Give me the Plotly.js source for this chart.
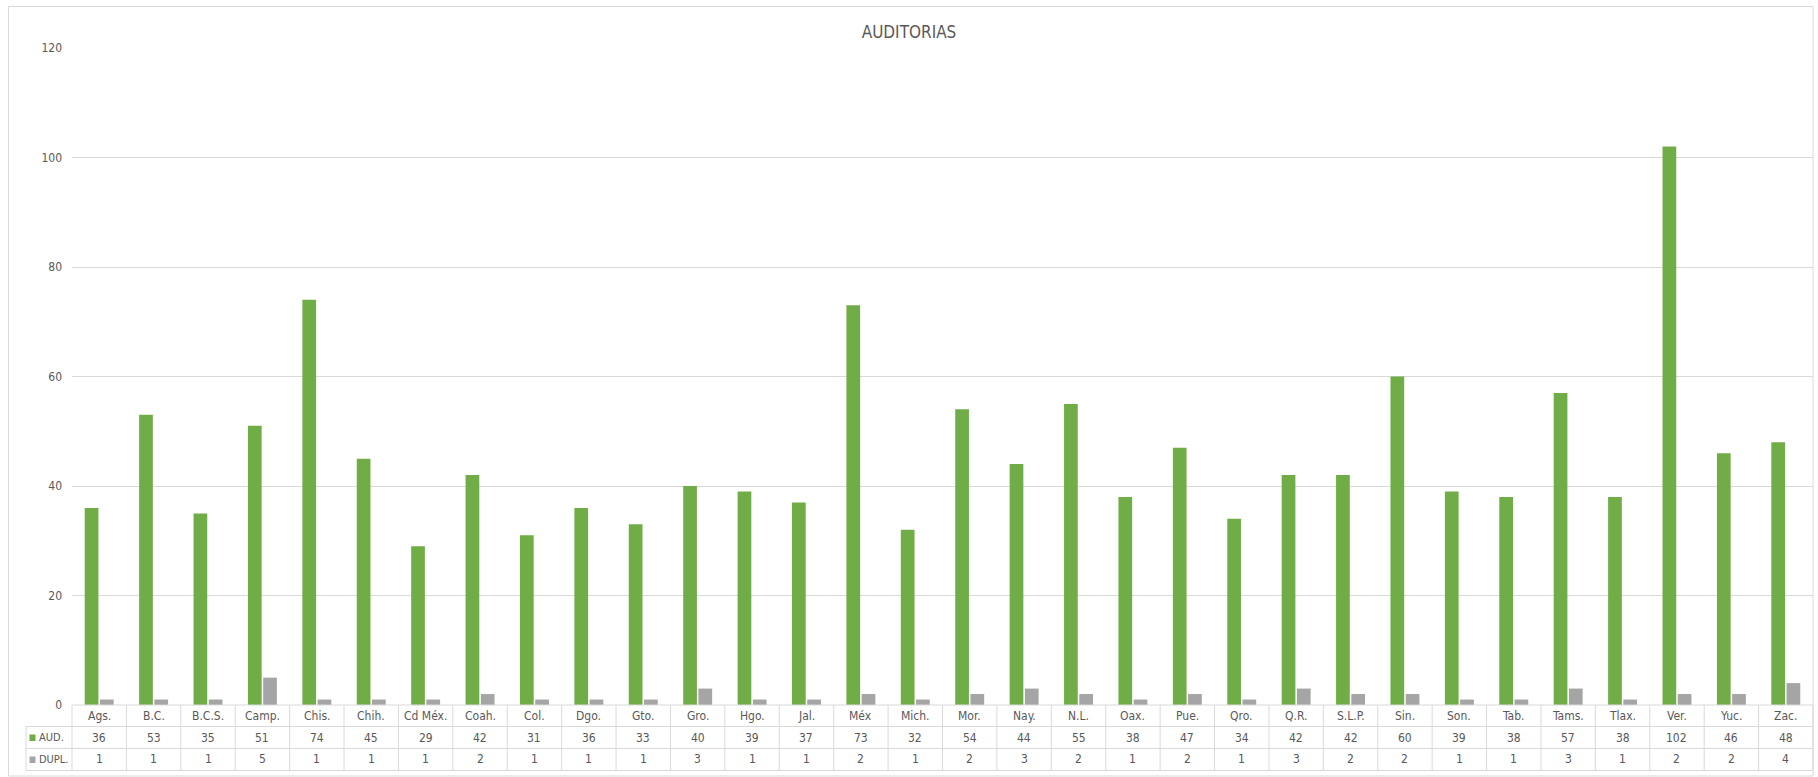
<!DOCTYPE html>
<html>
<head>
<meta charset="utf-8">
<script src="https://cdn.plot.ly/plotly-3.0.1.min.js"></script>
<style>html,body{margin:0;padding:0;background:#fff;}#chart{width:1818px;height:777px;}</style>
</head>
<body>
<div id="chart"></div>
<script>
const categories = ["Ags.","B.C.","B.C.S.","Camp.","Chis.","Chih.","Cd Méx.","Coah.","Col.","Dgo.","Gto.","Gro.","Hgo.","Jal.","Méx","Mich.","Mor.","Nay.","N.L.","Oax.","Pue.","Qro.","Q.R.","S.L.P.","Sin.","Son.","Tab.","Tams.","Tlax.","Ver.","Yuc.","Zac."];
const aud = [36,53,35,51,74,45,29,42,31,36,33,40,39,37,73,32,54,44,55,38,47,34,42,42,60,39,38,57,38,102,46,48];
const dupl = [1,1,1,5,1,1,1,2,1,1,1,3,1,1,2,1,2,3,2,1,2,1,3,2,2,1,1,3,1,2,2,4];
const seriesNames = ["AUD.","DUPL."];
const yTicks = [0,20,40,60,80,100,120];

const W = 1818, H = 777;
const L = 72, R = 1813, T = 48, B = 705;
const FONT = "'Liberation Sans Narrow','DejaVu Sans Condensed','Liberation Sans',Arial,sans-serif";
const TXT = "#595959", GRID = "#D9D9D9";
const GREEN = "#70AD47", GRAY = "#A5A5A5";
const px = x => (x - L) / (R - L);
const py = y => (B - y) / (B - T);

const rowTop = [B, 726.5, 748.5, 770.5];
const tableLeft = 26;

const shapes = [];
const line = (x0, y0, x1, y1, xref) => shapes.push({type: "line", xref: xref || "paper", yref: "paper", x0: x0, x1: x1, y0: py(y0), y1: py(y1), line: {color: GRID, width: 1}});
// outer chart border
shapes.push({type: "rect", xref: "paper", yref: "paper", x0: px(8.5), x1: px(1813), y0: py(6.5), y1: py(776), line: {color: GRID, width: 1}, layer: "below"});
// table horizontal lines
line(px(L), rowTop[0], px(R), rowTop[0]);
for (let k = 1; k < 4; k++) line(px(tableLeft), rowTop[k], px(R), rowTop[k]);
// table vertical lines
line(px(tableLeft), rowTop[1], px(tableLeft), rowTop[3]);
line(px(L), rowTop[0], px(L), rowTop[3]);
for (let i = 0; i < categories.length - 1; i++) line(i + 0.5, rowTop[0], i + 0.5, rowTop[3], "x");
line(px(R), rowTop[0], px(R), rowTop[3]);
// legend keys
const keyColors = [GREEN, GRAY];
for (let k = 0; k < 2; k++) {
  const cy = (rowTop[k + 1] + rowTop[k + 2]) / 2;
  shapes.push({type: "rect", xref: "paper", yref: "paper", x0: px(29.5), x1: px(35.5), y0: py(cy - 3), y1: py(cy + 3.5), fillcolor: keyColors[k], line: {width: 0}});
}

const annotations = [];
const cell = (x, yc, text, xref, align, size) => annotations.push({x: x, y: py(yc), xref: xref, yref: "paper", text: String(text), showarrow: false, xanchor: align || "center", yanchor: "middle", font: {family: FONT, size: size || 12, color: TXT}});
const rowCenter = k => (rowTop[k] + rowTop[k + 1]) / 2;
categories.forEach((c, i) => {
  cell(i, rowCenter(0), c, "x");
  cell(i, rowCenter(1), aud[i], "x");
  cell(i, rowCenter(2), dupl[i], "x");
});
cell(px(37), rowCenter(1), seriesNames[0], "paper", "left", 11);
cell(px(37), rowCenter(2), seriesNames[1], "paper", "left", 11);

const data = [
  {type: "bar", name: seriesNames[0], x: categories, y: aud, marker: {color: GREEN}, hoverinfo: "x+y"},
  {type: "bar", name: seriesNames[1], x: categories, y: dupl, marker: {color: GRAY}, hoverinfo: "x+y"}
];

const layout = {
  width: W, height: H,
  margin: {l: L, r: W - R, t: T, b: H - B, pad: 0},
  paper_bgcolor: "#fff", plot_bgcolor: "#fff",
  showlegend: false,
  barmode: "group", bargap: 0.44, bargroupgap: 0.1,
  title: {text: "AUDITORIAS", x: 0.5, xref: "container", xanchor: "center", y: 1 - 32 / H, yref: "container", yanchor: "middle", font: {family: FONT, size: 17, color: TXT}},
  xaxis: {type: "category", range: [-0.5, categories.length - 0.5], showticklabels: false, ticks: "", showgrid: false, zeroline: false, showline: false, fixedrange: true},
  yaxis: {range: [0, 120], tickvals: yTicks, ticktext: yTicks.map(String), showgrid: true, gridcolor: GRID, gridwidth: 1, zeroline: false, showline: false, ticks: "", ticklabelstandoff: 9, tickfont: {family: FONT, size: 12, color: TXT}, fixedrange: true},
  shapes: shapes,
  annotations: annotations
};

Plotly.newPlot("chart", data, layout, {displayModeBar: false, staticPlot: true});
</script>
</body>
</html>
